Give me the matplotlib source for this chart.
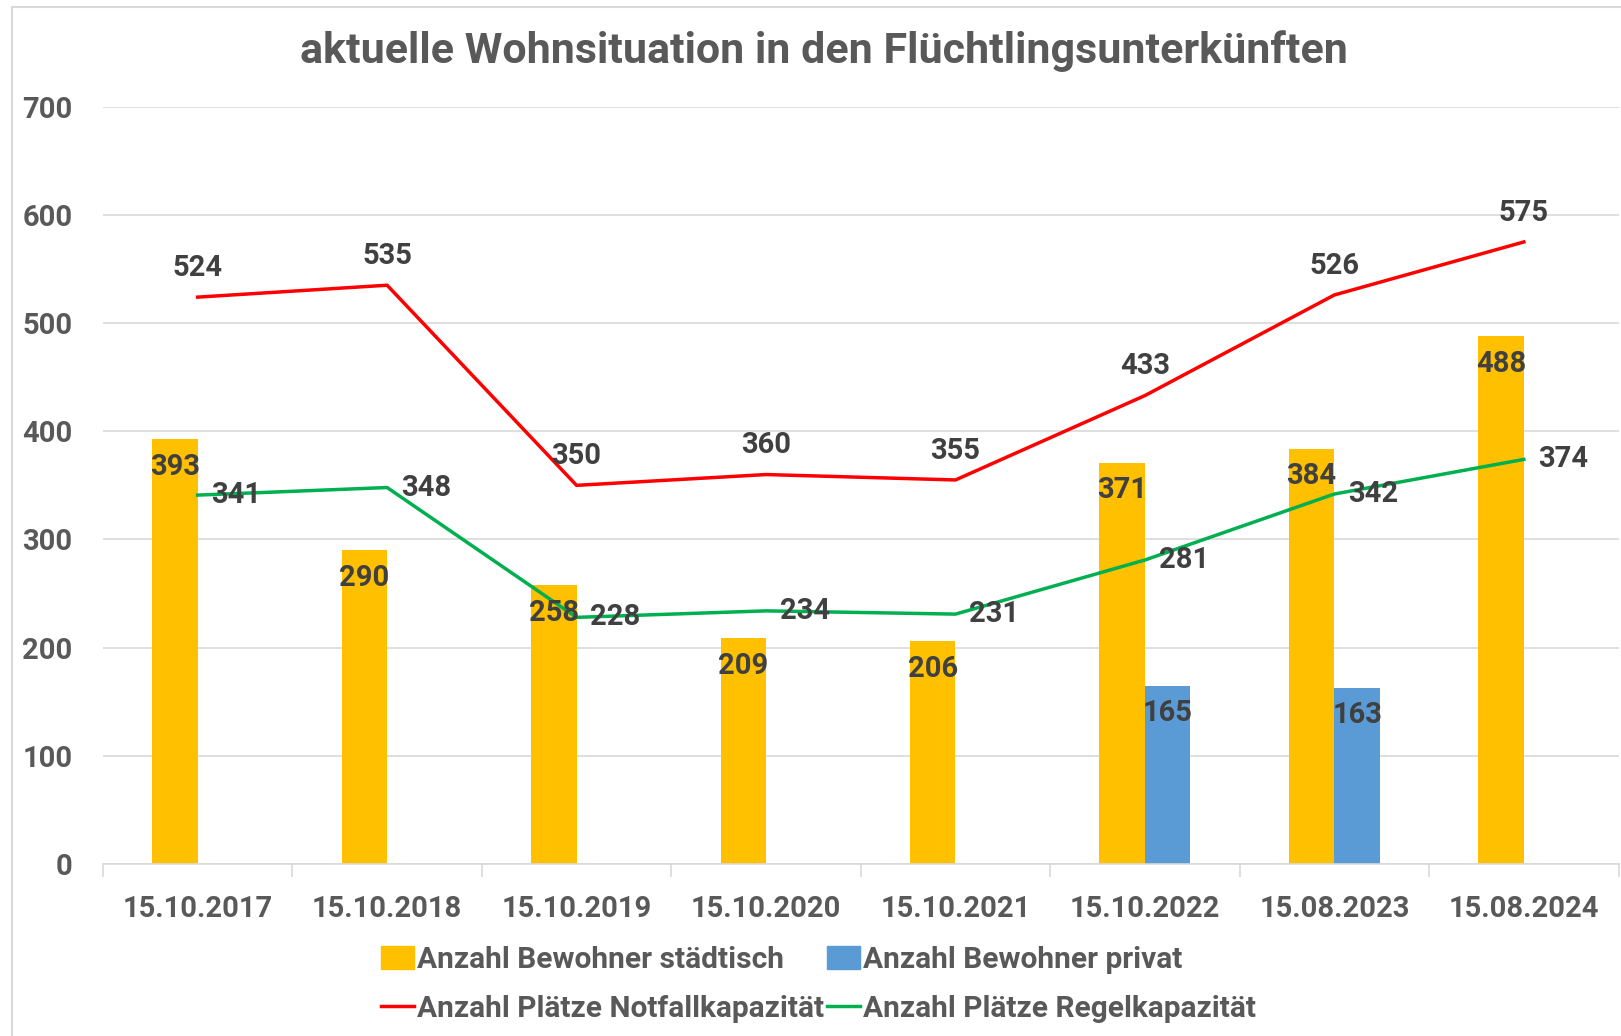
import numpy as np
import matplotlib
matplotlib.use("Agg")
import matplotlib.pyplot as plt
from matplotlib.patches import Rectangle
from matplotlib.lines import Line2D

plt.rcParams["font.family"] = ["Roboto", "DejaVu Sans"]
plt.rcParams["font.weight"] = "bold"

# data
dates = ["15.10.2017", "15.10.2018", "15.10.2019", "15.10.2020",
         "15.10.2021", "15.10.2022", "15.08.2023", "15.08.2024"]
bewohner_staedtisch = [393, 290, 258, 209, 206, 371, 384, 488]
bewohner_privat = [None, None, None, None, None, 165, 163, None]
plaetze_notfall = [524, 535, 350, 360, 355, 433, 526, 575]
plaetze_regel = [341, 348, 228, 234, 231, 281, 342, 374]

YELLOW = "#FFC000"
BLUE = "#5B9BD5"
RED = "#FF0000"
GREEN = "#00B050"
GRID = "#D9D9D9"
TXT = "#595959"
LBL = "#404040"
FS = 21

fig = plt.figure(figsize=(16.21, 10.36), dpi=100)
ax = fig.add_axes([0.0635, 0.166, 0.935, 0.731])

x = np.arange(len(dates))
w = 0.24

# bars
priv = np.array([v if v is not None else 0 for v in bewohner_privat])
ax.bar(x - w / 2, bewohner_staedtisch, width=w, color=YELLOW, zorder=2)
ax.bar(x + w / 2, priv, width=w, color=BLUE, zorder=2)

# lines
ax.plot(x, plaetze_notfall, color=RED, lw=2.5, zorder=3)
ax.plot(x, plaetze_regel, color=GREEN, lw=2.5, zorder=3)

lbl_kw = dict(textcoords="offset points", fontsize=FS, fontweight="bold",
              color=LBL, zorder=5)
for i, v in enumerate(bewohner_staedtisch):
    ax.annotate(str(v), (x[i] - w / 2, v), xytext=(0, -20), ha="center",
                va="center", **lbl_kw)
for i, v in enumerate(bewohner_privat):
    if v is not None:
        ax.annotate(str(v), (x[i] + w / 2, v), xytext=(0, -20), ha="center",
                    va="center", **lbl_kw)
for i, v in enumerate(plaetze_notfall):
    ax.annotate(str(v), (x[i], v), xytext=(0, 21), ha="center",
                va="center", **lbl_kw)
for i, v in enumerate(plaetze_regel):
    ax.annotate(str(v), (x[i], v), xytext=(10, 0), ha="left",
                va="center", **lbl_kw)

# axes styling
ax.set_xlim(-0.5, len(dates) - 0.5)
ax.set_ylim(0, 700)
ax.set_yticks(range(0, 701, 100))
ax.yaxis.grid(True, color=GRID, lw=1.2, zorder=0)
ax.set_axisbelow(True)
for s in ["top", "right", "left"]:
    ax.spines[s].set_visible(False)
ax.spines["bottom"].set_color(GRID)
ax.spines["bottom"].set_linewidth(1.2)
ax.tick_params(axis="y", length=0, pad=22, labelsize=FS, labelcolor=TXT)
ax.set_xticks(x)
ax.set_xticklabels(dates)
ax.tick_params(axis="x", length=0, pad=22, labelsize=FS, labelcolor=TXT)
ax.set_xticks(np.arange(-0.5, len(dates)), minor=True)
ax.tick_params(axis="x", which="minor", length=9, width=1.2, color=GRID)
for t in ax.get_xticklabels() + ax.get_yticklabels():
    t.set_fontweight("bold")

fig.text(0.5085, 0.951, "aktuelle Wohnsituation in den Flüchtlingsunterkünften",
         ha="center", va="center", fontsize=31, fontweight="bold", color=TXT)

# legend
handles = [
    Rectangle((0, 0), 1, 1, color=YELLOW),
    Line2D([], [], color=RED, lw=2.5),
    Rectangle((0, 0), 1, 1, color=BLUE),
    Line2D([], [], color=GREEN, lw=2.5),
]
labels = ["Anzahl Bewohner städtisch", "Anzahl Plätze Notfallkapazität",
          "Anzahl Bewohner privat", "Anzahl Plätze Regelkapazität"]
leg = fig.legend(handles, labels, ncol=2, loc="center",
                 bbox_to_anchor=(0.505, 0.050), frameon=False,
                 handlelength=1.1, handleheight=0.8,
                 handletextpad=0.1, columnspacing=0.1, labelspacing=0.7,
                 labelcolor=TXT, prop={"weight": "bold", "size": FS + 0.5})

# chart frame
fig.patches.append(Rectangle((12 / 1621, -0.1), 1.2, 1.1 - 7 / 1036,
                             transform=fig.transFigure, fill=False,
                             edgecolor=GRID, lw=1.5))

fig.savefig("out.png", dpi=100)
